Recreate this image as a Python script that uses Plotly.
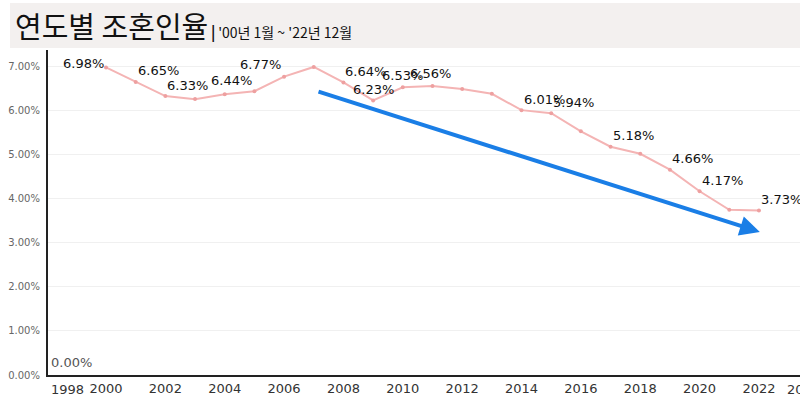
import plotly.graph_objects as go

# ---- data ----
years = list(range(2000, 2023))
rates = [6.98, 6.65, 6.33, 6.26, 6.37, 6.44, 6.77, 6.99, 6.64, 6.23, 6.53, 6.56,
         6.49, 6.38, 6.01, 5.94, 5.53, 5.18, 5.02, 4.66, 4.17, 3.75, 3.73]
labeled_years = [2000, 2001, 2002, 2005, 2006, 2008, 2009, 2010, 2011, 2014, 2015,
                 2017, 2019, 2020, 2022]
y_tick_vals = [0, 1, 2, 3, 4, 5, 6, 7]
x_tick_vals = list(range(2000, 2023, 2))
edge_labels = ["1998", "2024"]
trend_start = (2007.11, 6.44)
trend_end = (2022.03, 3.245)

# label anchoring (style): (xanchor, xshift, yshift)
label_style = {2000: ("right", 0, 4), 2005: ("right", 0, 11), 2006: ("right", -1, 12),
               2009: ("center", 0, 11), 2010: ("center", 0, 12), 2011: ("center", -2, 12)}
default_style = ("left", 0, 11)

W, H = 800, 397
L, R, T, B = 48, 0, 50, 22
plot_w = W - L - R
plot_h = H - T - B

fig = go.Figure()
fig.add_trace(go.Scatter(
    x=years, y=rates, mode="lines+markers",
    line=dict(color="rgb(244,180,180)", width=2),
    marker=dict(color="rgb(238,160,160)", size=4),
    hoverinfo="skip", showlegend=False,
))

for yr, v in zip(years, rates):
    if yr not in labeled_years:
        continue
    xa, xs, ys = label_style.get(yr, default_style)
    fig.add_annotation(
        x=yr, y=v, xref="x", yref="y", text=f"{v:.2f}%", showarrow=False,
        xanchor=xa, yanchor="middle", xshift=xs, yshift=ys,
        font=dict(family="DejaVu Sans", size=13, color="#111"),
    )

# header band
fig.add_shape(type="rect", xref="paper", yref="paper",
              x0=(10 - L) / plot_w, x1=1.0,
              y0=(H - B - 48) / plot_h, y1=(H - B - 3) / plot_h,
              fillcolor="#f3f0ef", line=dict(width=0), layer="below")

fig.add_annotation(
    xref="paper", yref="paper", x=(13 - L) / plot_w, y=(H - B - 25) / plot_h,
    xanchor="left", yanchor="middle", showarrow=False,
    text="<span style='font-size:29px'>연도별 조혼인율</span> "
         "<b><span style='font-size:15px'>|</span></b> "
         "<span style='font-size:14px'>'00년 1월 ~ '22년 12월</span>",
    font=dict(family="Noto Sans CJK KR", color="#111"),
)

# trend arrow
fig.add_annotation(
    x=trend_end[0], y=trend_end[1], ax=trend_start[0], ay=trend_start[1],
    xref="x", yref="y", axref="x", ayref="y",
    showarrow=True, arrowhead=2, arrowsize=1, arrowwidth=4,
    arrowcolor="rgb(26,126,230)", text="",
)

# 0.00% label
fig.add_annotation(
    xref="paper", yref="y", x=0, y=0, xanchor="left", yanchor="bottom",
    xshift=1, yshift=3, showarrow=False, text="0.00%",
    font=dict(family="DejaVu Sans", size=13, color="#555"),
)

# edge x labels
fig.add_annotation(
    xref="paper", yref="paper", x=0, y=0, xanchor="left", yanchor="top",
    xshift=1, yshift=-5, showarrow=False, text=edge_labels[0],
    font=dict(family="DejaVu Sans", size=13, color="#333"),
)
fig.add_annotation(
    xref="paper", yref="paper", x=1, y=0, xanchor="left", yanchor="top",
    xshift=-15, yshift=-5, showarrow=False, text=edge_labels[1],
    font=dict(family="DejaVu Sans", size=13, color="#333"),
)

x0 = 2000 - 58 / 29.68
fig.update_layout(
    width=W, height=H,
    margin=dict(l=L, r=R, t=T, b=B),
    paper_bgcolor="white", plot_bgcolor="white",
    xaxis=dict(range=[x0, x0 + plot_w / 29.68], tickvals=x_tick_vals,
               ticktext=[str(v) for v in x_tick_vals],
               showgrid=False, zeroline=False, showline=True,
               linecolor="#222", linewidth=2, ticks="",
               tickfont=dict(family="DejaVu Sans", size=13, color="#333")),
    yaxis=dict(range=[0, plot_h / 44.07], tickvals=y_tick_vals,
               ticktext=[f"{v:.2f}%" for v in y_tick_vals],
               showgrid=True, gridcolor="#f0f0f0", gridwidth=1,
               zeroline=False, showline=True, linecolor="#222", linewidth=2,
               ticks="", ticklabelstandoff=4,
               tickfont=dict(family="DejaVu Sans", size=10, color="#666")),
)

fig.write_html("out.html", config={"displayModeBar": False},
               post_script="document.body.style.margin='0';document.body.style.overflow='hidden';")
